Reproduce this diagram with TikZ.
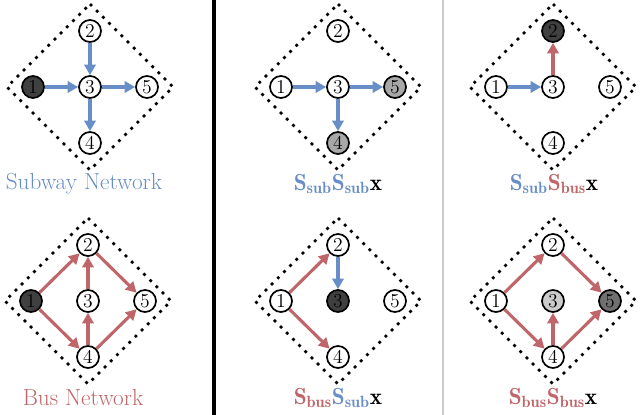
\documentclass[tikz,border=0pt]{standalone}
\usepackage{amsmath}
\usepackage{fontspec}
\usepackage{tikz}
\usetikzlibrary{arrows.meta}
\usepackage{xcolor}

\definecolor{subblue}{RGB}{104,142,199}
\definecolor{busred}{RGB}{192,101,106}
\definecolor{stnDark}{RGB}{64,64,64}
\definecolor{stnGray}{RGB}{112,112,112}
\definecolor{stnMid}{RGB}{168,168,168}
\definecolor{stnLight}{RGB}{204,204,204}

\newcommand{\Ssub}{{\color{subblue}\mathbf{S}_{\mathbf{sub}}}}
\newcommand{\Sbus}{{\color{busred}\mathbf{S}_{\mathbf{bus}}}}

\begin{document}
\begin{tikzpicture}[
    x=0.025cm, y=-0.025cm,
    stn/.style={circle, draw, line width=1.2pt, minimum size=0.55cm, inner sep=0pt, font=\fontsize{14}{16}\selectfont},
    subarr/.style={-{Triangle[length=7.5pt, width=8pt]}, line width=2.2pt, subblue},
    busarr/.style={-{Triangle[length=7.5pt, width=8pt]}, line width=2.2pt, busred},
    diam/.style={line width=2pt, dash pattern=on 2pt off 4.2pt},
    lbl/.style={font=\fontsize{16.5}{19}\selectfont}
]
\useasboundingbox (0,0) rectangle (640,415);

\foreach \p/\cx/\cy/\fa/\fb/\fc/\fd/\fe in {
    sub/90/87/stnDark/white/white/white/white,
    subsub/338/87/white/white/white/stnMid/stnMid,
    subbus/553/87/white/stnDark/white/white/white,
    bus/88/301/stnDark/white/white/white/white,
    bussub/338/301/white/white/stnDark/white/white,
    busbus/553/301/white/white/stnLight/white/stnGray}
{
    \draw[diam] (\cx,\cy-83) -- (\cx+83,\cy) -- (\cx,\cy+83) -- (\cx-83,\cy) -- cycle;
    \node[stn, fill=\fa] (\p1) at (\cx-57,\cy) {1};
    \node[stn, fill=\fb] (\p2) at (\cx,\cy-56) {2};
    \node[stn, fill=\fc] (\p3) at (\cx,\cy) {3};
    \node[stn, fill=\fd] (\p4) at (\cx,\cy+56) {4};
    \node[stn, fill=\fe] (\p5) at (\cx+57,\cy) {5};
}

% separators
\draw[line width=3pt] (214,0) -- (214,415);
\draw[line width=2pt, black!20] (443,0) -- (443,415);

% subway network
\draw[subarr] (sub1) -- (sub3);
\draw[subarr] (sub2) -- (sub3);
\draw[subarr] (sub3) -- (sub5);
\draw[subarr] (sub3) -- (sub4);

% bus network
\draw[busarr] (bus1) -- (bus2);
\draw[busarr] (bus1) -- (bus4);
\draw[busarr] (bus3) -- (bus2);
\draw[busarr] (bus4) -- (bus3);
\draw[busarr] (bus2) -- (bus5);
\draw[busarr] (bus4) -- (bus5);

% two-step products
\draw[subarr] (subsub1) -- (subsub3);
\draw[subarr] (subsub3) -- (subsub5);
\draw[subarr] (subsub3) -- (subsub4);

\draw[subarr] (subbus1) -- (subbus3);
\draw[busarr] (subbus3) -- (subbus2);

\draw[busarr] (bussub1) -- (bussub2);
\draw[busarr] (bussub1) -- (bussub4);
\draw[subarr] (bussub2) -- (bussub3);

\draw[busarr] (busbus1) -- (busbus2);
\draw[busarr] (busbus1) -- (busbus4);
\draw[busarr] (busbus2) -- (busbus5);
\draw[busarr] (busbus4) -- (busbus3);
\draw[busarr] (busbus4) -- (busbus5);

% labels
\node[lbl, subblue] (sublbl) at (84,184) {Subway Network};
\node[lbl, busred] (buslbl) at (83,398) {Bus Network};
\node[lbl] (subsublbl) at (338,184) {$\Ssub\Ssub\mathbf{x}$};
\node[lbl] (subbuslbl) at (554,184) {$\Ssub\Sbus\mathbf{x}$};
\node[lbl] (bussublbl) at (338,398) {$\Sbus\Ssub\mathbf{x}$};
\node[lbl] (busbuslbl) at (553,398) {$\Sbus\Sbus\mathbf{x}$};

\end{tikzpicture}
\end{document}
